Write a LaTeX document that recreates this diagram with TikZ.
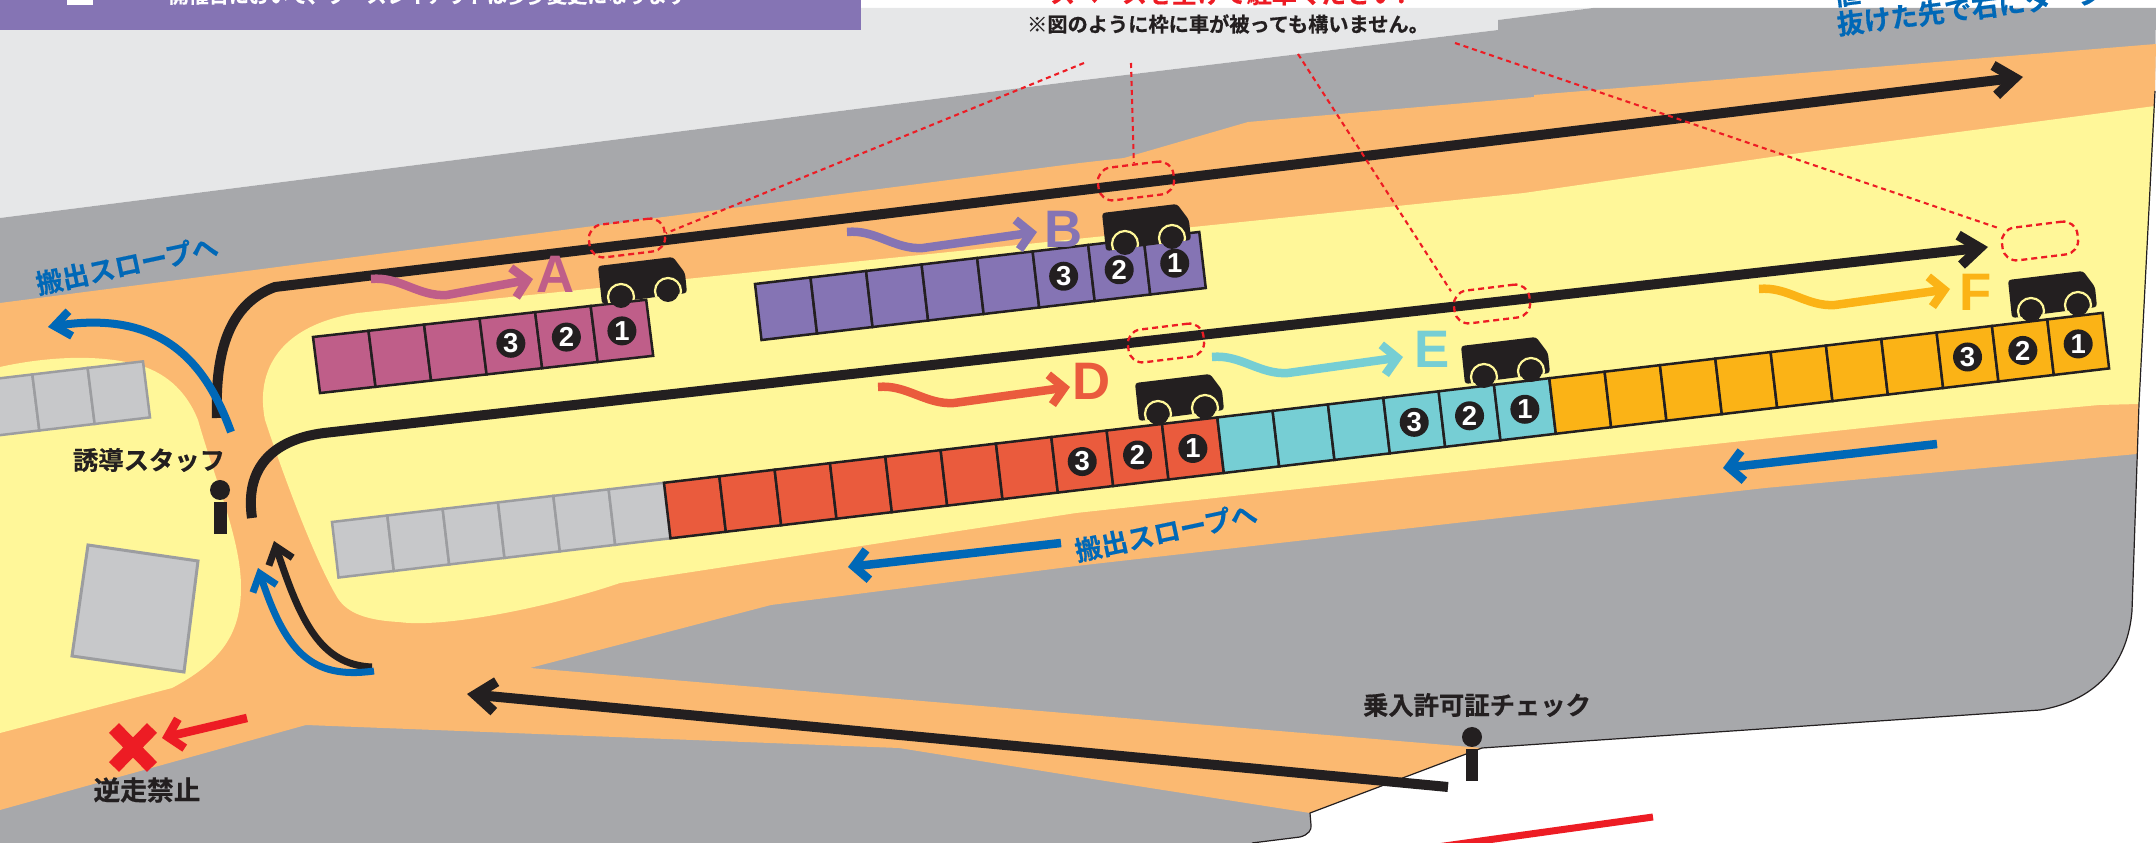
\documentclass[tikz,border=0pt]{standalone}
\usepackage{fontspec}
\usepackage{xcolor}
\usepackage{tikz}
\usetikzlibrary{arrows.meta,positioning}

\setmainfont{Liberation Sans}
\newfontfamily\jpfont[BoldFont={Noto Sans CJK JP Bold},BoldFeatures={FakeBold=0.5}]{Noto Sans CJK JP}

\definecolor{sitegray}{HTML}{E6E7E8}
\definecolor{landgray}{HTML}{A7A8AB}
\definecolor{roadorange}{HTML}{FBB971}
\definecolor{lotyellow}{HTML}{FFF799}
\definecolor{inkblack}{HTML}{231F20}
\definecolor{stopred}{HTML}{ED1C24}
\definecolor{exitblue}{HTML}{0068B7}
\definecolor{bandpurple}{HTML}{8574B4}
\definecolor{rowA}{HTML}{BF5E89}
\definecolor{rowB}{HTML}{8574B4}
\definecolor{rowD}{HTML}{EA5B3D}
\definecolor{rowE}{HTML}{76CED4}
\definecolor{rowF}{HTML}{FBB316}
\definecolor{emptycell}{HTML}{C7C8CA}
\definecolor{emptyline}{HTML}{9C9DA0}

\tikzset{
    cell/.style={line width=0.025cm, line join=miter},
    numdot/.style={circle, fill=inkblack, text=white, inner sep=0pt, minimum size=0.29cm,
        font=\bfseries\fontsize{7.8}{8}\selectfont},
    rowletter/.style={font=\bfseries\fontsize{15}{16}\selectfont},
    jplabel/.style={text=inkblack, inner sep=0pt, font=\jpfont\bfseries\fontsize{7.2}{9}\selectfont},
    bluelabel/.style={text=exitblue, inner sep=0pt, font=\jpfont\bfseries\fontsize{7.6}{9}\selectfont},
    mainarrow/.style={draw=inkblack, line width=0.1cm, -{Straight Barb[length=0.2cm,width=0.3cm]}},
    turnarrow/.style={line width=0.07cm, -{Straight Barb[length=0.16cm,width=0.25cm]}},
    flowarrow/.style={line width=0.085cm, -{Straight Barb[length=0.14cm,width=0.3cm]}},
    frame/.style={draw=stopred, rectangle, rounded corners=0.14cm, rotate=7, line width=0.023cm,
        dash pattern=on 0.06cm off 0.04cm, minimum width=0.76cm, minimum height=0.33cm, inner sep=0pt},
    leader/.style={draw=stopred, line width=0.021cm, dash pattern=on 0.05cm off 0.04cm},
    car/.pic={
        \fill[inkblack, rounded corners=0.03cm] (0,0) -- (75,-9) -- (87,7) -- (89,27) -- (4,38) -- cycle;
        \begin{scope}
            \clip (0,0) -- (75,-9) -- (87,7) -- (89,27) -- (4,38) -- cycle;
            \draw[lotyellow, line width=0.022cm] (23,31) circle (13);
            \draw[lotyellow, line width=0.022cm] (70,25) circle (13);
        \end{scope}
        \fill[inkblack] (23,31) circle (11);
        \fill[inkblack] (70,25) circle (11);
    },
}

% One run of parking cells: first, last, fill, line
\newcommand{\parkcells}[4]{
    \foreach \i in {#1,...,#2} {
        \draw[cell, fill=#3, draw=#4] (\i,0) -- (\i+1,0) -- (\i+1,1) -- (\i,1) -- cycle;
    }
}

\begin{document}
\begin{tikzpicture}[x=0.01cm, y=-0.01cm]
    \useasboundingbox (0,0) rectangle (2156,843);
    \clip (0,0) rectangle (2156,843);

    % Ground
    \fill[sitegray] (0,30) -- (861,30) -- (861,8) -- (1593,8) -- (1498,20) -- (1498,30) -- (1076,81) -- (0,218) -- cycle;
    \fill[landgray] (0,218) -- (1076,81) -- (1498,30) -- (1498,20) -- (1593,8) -- (2156,8) -- (2155,91) -- (2139,404)
        -- (2132,611) .. controls (2128,660) and (2100,700) .. (2040,710) -- (1482,748) -- (1310,813) -- (1311,825)
        .. controls (1312,830) and (1308,835) .. (1300,837) -- (1252,843) -- (0,843) -- cycle;

    % Road
    \fill[roadorange] (0,303) -- (1080,163) -- (1124,158) -- (1248,122) -- (1534,97) -- (1534,95) -- (2156,44) -- (2155,91)
        -- (2139,404) -- (2137,454) -- (1765,488) -- (1076,566) -- (771,605) -- (530,668) -- (1076,714) -- (1482,748)
        -- (1310,813) -- (1080,777) -- (899,748) -- (306,725) -- (0,810) -- cycle;

    % Lots
    \fill[lotyellow] (0,367) .. controls (40,358) and (100,352) .. (145,367) .. controls (175,378) and (190,400) .. (198,420)
        .. controls (215,480) and (241,540) .. (241,587) .. controls (241,630) and (225,660) .. (172,688) -- (0,733) -- cycle;
    \fill[lotyellow] (2155,106) -- (2139,404) -- (2099,405) -- (1937,420) -- (1076,513) -- (620,583)
        .. controls (540,610) and (440,628) .. (399,622) .. controls (360,620) and (345,610) .. (337,597)
        .. controls (315,560) and (285,480) .. (265,420) .. controls (255,370) and (280,325) .. (358,313)
        -- (413,307) -- (1193,227) -- (1524,193) -- (1785,155) -- cycle;

    % Site outline
    \draw[inkblack, line width=0.012cm] (2155,91) -- (2139,404) -- (2132,611) .. controls (2128,660) and (2100,700) .. (2040,710)
        -- (1482,748) -- (1310,813) -- (1311,825) .. controls (1312,830) and (1308,835) .. (1300,837) -- (1252,843);

    % Top band
    \fill[bandpurple] (0,0) rectangle (861,30);
    \fill[white] (67,0) rectangle (93,5);
    \node[inner sep=0pt, text=white, anchor=base, font=\jpfont\bfseries\fontsize{5.7}{7}\selectfont] (bandtext) at (428,3) {開催日において、ブースレイアウトは多少変更になります};
    \node[text=stopred, inner sep=0pt, anchor=base, font=\jpfont\bfseries\fontsize{7.1}{9}\selectfont] (parknote) at (1228,3) {スペースを空けて駐車ください!};
    \node[jplabel, font=\jpfont\bfseries\fontsize{5.75}{7}\selectfont] (covernote) at (1228,24) {※図のように枠に車が被っても構いません。};
    \node[bluelabel, rotate=7, anchor=south west, align=left, font=\jpfont\bfseries\fontsize{7.7}{8.3}\selectfont] (turnnote) at (1838,38) {値\\抜けた先で右にターン};

    % Gray blocks on the left
    \fill[emptycell, draw=emptyline, line width=0.03cm] (88,545) -- (198,561) -- (184,672) -- (72,656) -- cycle;
    \begin{scope}[shift={(-23,381)}, x={(0.553cm,0.0653cm)}, y={(0.07cm,-0.56cm)}]
        \parkcells{0}{2}{emptycell}{emptyline}
    \end{scope}

    % Row A
    \begin{scope}[shift={(313,337)}, x={(0.555cm,0.0620cm)}, y={(0.07cm,-0.56cm)}]
        \parkcells{0}{5}{rowA}{inkblack}
        \foreach \n/\c in {1/5.5, 2/4.5, 3/3.5} {
            \node[numdot] (numA\n) at (\c,0.5) {\n};
        }
    \end{scope}

    % Row B
    \begin{scope}[shift={(755,284)}, x={(0.555cm,0.0650cm)}, y={(0.065cm,-0.56cm)}]
        \parkcells{0}{7}{rowB}{inkblack}
        \foreach \n/\c in {1/7.5, 2/6.5, 3/5.5} {
            \node[numdot] (numB\n) at (\c,0.5) {\n};
        }
    \end{scope}

    % Long row, D E F
    \begin{scope}[shift={(332,522)}, x={(0.553cm,0.0653cm)}, y={(0.065cm,-0.555cm)}]
        \parkcells{0}{5}{emptycell}{emptyline}
        \parkcells{6}{15}{rowD}{inkblack}
        \parkcells{16}{21}{rowE}{inkblack}
        \parkcells{22}{31}{rowF}{inkblack}
        \foreach \n/\c in {1/15.5, 2/14.5, 3/13.5} {
            \node[numdot] (numD\n) at (\c,0.5) {\n};
        }
        \foreach \n/\c in {1/21.5, 2/20.5, 3/19.5} {
            \node[numdot] (numE\n) at (\c,0.5) {\n};
        }
        \foreach \n/\c in {1/31.5, 2/30.5, 3/29.5} {
            \node[numdot] (numF\n) at (\c,0.5) {\n};
        }
    \end{scope}

    % Cars
    \foreach \px/\py in {598/266, 1102/213, 1135/383, 1461/346, 2008/280} {
        \pic at (\px,\py) {car};
    }

    % Driving lines
    \draw[mainarrow] (217,418) .. controls (215,360) and (225,305) .. (275,287) -- (2023,77);
    \draw[mainarrow] (252,518) .. controls (245,470) and (270,440) .. (324,433) -- (1988,247);
    \draw[mainarrow] (1448,787) -- (467,694);
    \draw[turnarrow, draw=inkblack] (372,667) .. controls (320,665) and (300,620) .. (274,541);

    % Exit arrows
    \draw[turnarrow, draw=exitblue, line width=0.08cm] (231,432) .. controls (205,360) and (160,310) .. (48,327);
    \draw[turnarrow, draw=exitblue] (374,671) .. controls (310,680) and (285,650) .. (258,568);
    \draw[flowarrow, draw=exitblue] (1937,444) -- (1723,468);
    \draw[flowarrow, draw=exitblue] (1061,543) -- (848,567);

    % Row arrows and letters
    \foreach \col/\px/\py/\len in {rowA/371/279/86, rowB/847/232/114, rowD/878/387/116, rowE/1212/357/115, rowF/1759/289/115} {
        \draw[flowarrow, draw=\col] (\px,\py) .. controls +(28,-3) and +(-28,2) .. ++(76,16) -- ++(\len,-16);
    }
    \node[rowletter, text=rowA] (letterA) at (556,274) {A};
    \node[rowletter, text=rowB] (letterB) at (1064,229) {B};
    \node[rowletter, text=rowD] (letterD) at (1092,381) {D};
    \node[rowletter, text=rowE] (letterE) at (1432,349) {E};
    \node[rowletter, text=rowF] (letterF) at (1976,292) {F};

    % Frames and leaders
    \node[frame] (frameA) at (627,238) {};
    \node[frame] (frameB) at (1136,181) {};
    \node[frame] (frameD) at (1166,343) {};
    \node[frame] (frameE) at (1492,304) {};
    \node[frame] (frameF) at (2040,241) {};
    \coordinate (noteA) at (1084,63);
    \coordinate (noteB) at (1131,63);
    \coordinate (noteE) at (1298,54);
    \coordinate (noteF) at (1455,43);
    \draw[leader] (noteA) -- (frameA.east);
    \draw[leader] (noteB) -- (frameB.north);
    \draw[leader] (noteE) -- (frameE.north west);
    \draw[leader] (noteF) -- (frameF.north west);

    % Staff
    \fill[inkblack] (220,490) circle (10);
    \fill[inkblack] (214,502) rectangle (227,534);
    \fill[inkblack] (1472,737) circle (10);
    \fill[inkblack] (1466,749) rectangle (1478,781);

    % Labels
    \node[jplabel] (guidestaff) at (149,460) {誘導スタッフ};
    \node[jplabel] (permitcheck) at (1477,705) {乗入許可証チェック};
    \node[jplabel, font=\jpfont\bfseries\fontsize{7.6}{9}\selectfont] (nowrongway) at (147,790) {逆走禁止};
    \node[bluelabel, rotate=12] (slopeupper) at (127,265) {搬出スロープへ};
    \node[bluelabel, rotate=12] (slopelower) at (1166,532) {搬出スロープへ};

    % No entry mark
    \draw[flowarrow, draw=stopred] (247,718) -- (162,738);
    \draw[stopred, line width=0.14cm] (114,728) -- (152,767);
    \draw[stopred, line width=0.14cm] (152,728) -- (114,767);

    % Red line at the bottom
    \draw[stopred, line width=0.07cm] (1653,817) -- (1430,848);
\end{tikzpicture}
\end{document}
